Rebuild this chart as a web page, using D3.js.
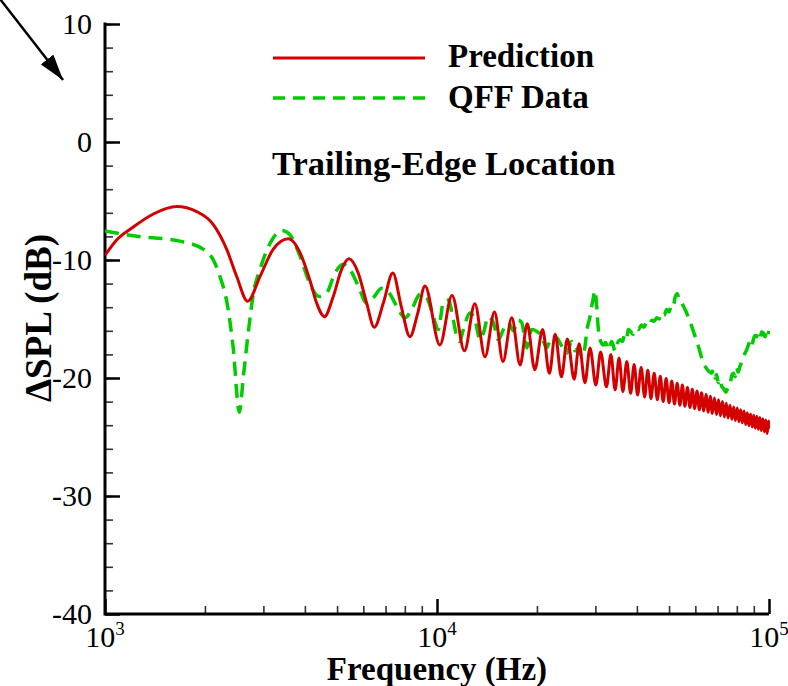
<!DOCTYPE html>
<html><head><meta charset="utf-8">
<script src="https://cdn.jsdelivr.net/npm/d3@7"></script>
<style>
html,body{margin:0;padding:0;background:#fff;}
svg{display:block;font-family:"Liberation Serif","Times New Roman",serif;}
svg text{font-family:"Liberation Serif","Times New Roman",serif;}
</style></head>
<body>
<svg id="chart" width="788" height="686"></svg>
<script>
// ---- data ----
const predFreqKHz = [1.0,1.084,1.217,1.398,1.644,1.889,2.12,2.326,2.493,2.69,2.93,3.21,3.57,3.87,4.14,4.34,4.58,4.87,5.16,5.43,5.79,6.14,6.47,6.9,7.36,7.8,8.29,8.75,9.2,
 10.2,11.1,12.1,13.0,13.95,14.9,15.8,16.8,17.8,18.7,19.7,20.8,21.8,22.7,23.7,24.7,25.9,26.8,27.9,28.9,30.1,31.1,32.4,33.4,
 34.4,35.35,36.3,37.3,38.3,39.25,40.2,41.2,42.2,43.15,44.1,45.1,46.1,47.05,48.0,49.0,50.0,50.95,51.9,52.9,53.9,54.85,55.8,56.8,57.8,58.75,59.7,60.7,
 61.7,62.65,63.6,64.6,65.6,66.55,67.5,68.5,69.5,70.45,71.4,72.4,73.4,74.35,75.3,76.3,77.3,78.25,79.2,80.2,81.2,82.15,83.1,84.1,85.1,86.05,87.0,88.0,
 89.0,89.95,90.9,91.9,92.9,93.85,94.8,95.8,96.8,97.75,98.7,99.7,100.0];
const predDb = [-9.6,-8.3,-7.2,-6.1,-5.47,-5.9,-7.0,-9.1,-11.4,-13.5,-11.4,-9.1,-8.2,-9.4,-11.7,-13.65,-14.8,-13.1,-10.8,-9.9,-11.1,-13.65,-15.7,-13.6,-11.1,-13.9,-16.5,-14.5,-12.2,
 -17.2,-13.0,-17.7,-13.7,-18.2,-14.4,-18.6,-14.9,-18.9,-15.4,-19.3,-15.9,-19.6,-16.3,-19.9,-16.7,-20.1,-17.1,-20.4,-17.45,-20.6,-17.8,-20.75,-18.0,
 -21.0,-18.3,-21.15,-18.6,-21.3,-18.85,-21.45,-19.1,-21.6,-19.35,-21.75,-19.6,-21.85,-19.85,-22.0,-20.05,-22.1,-20.25,-22.2,-20.45,-22.3,-20.6,-22.4,-20.8,-22.5,-20.95,-22.6,-21.1,
 -22.7,-21.25,-22.8,-21.4,-22.9,-21.55,-23.0,-21.7,-23.1,-21.85,-23.2,-22.0,-23.3,-22.15,-23.4,-22.3,-23.5,-22.45,-23.6,-22.55,-23.7,-22.7,-23.8,-22.8,-23.95,-22.95,-24.05,-23.05,
 -24.15,-23.15,-24.25,-23.25,-24.35,-23.35,-24.45,-23.45,-24.55,-23.55,-24.7,-23.65,-24.3];

const qffFreqKHz = [1.0,1.217,1.68,1.98,2.12,2.22,2.35,2.43,2.54,2.61,2.70,2.80,2.93,3.14,3.41,3.61,3.87,4.14,4.42,4.65,4.93,5.22,5.47,5.79,6.14,6.43,6.81,7.13,7.56,8.01,8.39,8.89,9.31,9.75,10.09,10.45,10.82,11.2,11.47,11.7,12.0,12.57,13.02,13.48,13.79,14.27,14.78,15.3,15.84,16.4,16.98,17.58,17.99,18.63,19.28,19.97,20.67,21.4,22.16,22.94,23.75,24.59,25.45,26.05,26.65,27.29,27.92,28.25,28.9,29.44,29.92,30.27,30.6,31.12,31.7,32.2,32.8,33.6,34.37,35.16,35.6,36.2,36.85,37.3,37.7,38.4,39.0,39.7,40.4,41.35,42.0,42.8,43.6,44.35,45.1,45.9,46.7,47.5,48.3,49.2,50.0,50.9,51.5,52.1,52.95,53.5,53.95,55.2,56.2,57.5,58.3,59.2,60.6,61.7,62.7,64.2,65.7,67.2,68.0,68.8,69.5,70.4,71.2,72.0,73.0,74.2,75.0,76.3,77.2,78.1,79.0,79.9,80.8,81.8,82.7,83.7,84.7,85.7,86.7,87.7,88.7,89.7,90.7,91.8,92.9,94.0,95.0,96.1,97.3,98.4,99.2,100.0];
const qffDb = [-7.55,-7.95,-8.4,-9.1,-10.0,-11.4,-14.2,-17.3,-22.9,-19.9,-16.2,-12.8,-10.8,-8.6,-7.5,-7.87,-9.7,-12.0,-13.1,-12.8,-11.1,-10.35,-10.8,-12.2,-13.65,-13.2,-12.4,-12.7,-13.9,-14.9,-14.2,-12.9,-13.2,-14.8,-15.9,-13.6,-13.4,-15.1,-16.5,-16.9,-15.9,-14.5,-15.1,-16.75,-16.2,-14.8,-15.3,-16.75,-15.9,-15.3,-16.0,-15.1,-15.3,-17.45,-15.9,-16.05,-16.5,-17.45,-16.5,-16.6,-17.3,-17.9,-16.9,-17.7,-17.45,-18.2,-17.3,-16.05,-14.8,-13.5,-12.6,-13.9,-15.8,-16.9,-17.2,-17.0,-17.6,-16.9,-17.7,-16.9,-16.75,-16.9,-16.2,-16.5,-15.9,-16.1,-16.3,-15.8,-15.9,-15.5,-15.7,-15.3,-15.5,-15.1,-15.2,-14.9,-15.0,-14.5,-14.7,-14.2,-14.4,-13.8,-13.9,-13.2,-12.86,-13.3,-13.4,-13.9,-14.35,-15.06,-15.5,-16.05,-16.9,-17.6,-18.3,-19.0,-19.4,-19.6,-19.3,-20.0,-19.7,-20.4,-20.1,-20.7,-20.9,-21.2,-20.9,-20.6,-19.8,-19.6,-19.9,-19.15,-19.5,-19.0,-18.7,-18.4,-17.9,-17.6,-17.2,-16.9,-17.3,-16.75,-16.4,-16.5,-16.2,-16.6,-16.1,-16.2,-16.5,-16.05,-16.4,-16.0];

const yMajorTicks = [-40,-30,-20,-10,0,10];
const xMajorTicks = [1000,10000,100000];
const xTickExps = ["3","4","5"];
const legendLabels = ["Prediction","QFF Data"];
const annotation = "Trailing-Edge Location";
const xTitle = "Frequency (Hz)";
const yTitle = "\u0394SPL (dB)";

// ---- layout ----
const L = 105, R = 769, T = 24, B = 614;
const RED = "#d40000", GREEN = "#00cc00";
const SERIF = "Liberation Serif, Times New Roman, serif";
const svg = d3.select("#chart");
const x = d3.scaleLog().domain([1000,100000]).range([L,R]);
const y = d3.scaleLinear().domain([-40,10]).range([B,T]);

svg.append("defs").append("clipPath").attr("id","clip")
  .append("rect").attr("x",L).attr("y",T-2).attr("width",R-L+1).attr("height",B-T+4);

// minor/major ticks y
const yMinor = d3.range(-40,10.01,2);
svg.append("g").attr("transform",`translate(${L},0)`)
  .call(d3.axisLeft(y).tickValues(yMinor).tickSize(-8).tickFormat(""))
  .call(g=>{g.select(".domain").remove(); g.selectAll("line").attr("stroke","#333").attr("stroke-width",1.6);});
svg.append("g").attr("transform",`translate(${L},0)`)
  .call(d3.axisLeft(y).tickValues(yMajorTicks).tickSize(-15).tickPadding(13).tickFormat(d=>String(d)))
  .call(g=>{g.select(".domain").remove(); g.attr("font-family",SERIF);
    g.selectAll("line").attr("stroke","#000").attr("stroke-width",2.5);
    g.selectAll("text").attr("font-size",30).attr("fill","#000").attr("font-family",SERIF).attr("dy","0.33em");});

// x ticks
const xMinor = [];
[1000,10000].forEach(d=>{for(let k=2;k<=9;k++) xMinor.push(d*k);});
svg.append("g").attr("transform",`translate(0,${B})`)
  .call(d3.axisBottom(x).tickValues(xMinor).tickSize(-8).tickFormat(""))
  .call(g=>{g.select(".domain").remove(); g.selectAll("line").attr("stroke","#333").attr("stroke-width",1.6);});
svg.append("g").attr("transform",`translate(0,${B})`)
  .call(d3.axisBottom(x).tickValues(xMajorTicks).tickSize(-15).tickFormat(""))
  .call(g=>{g.select(".domain").remove(); g.selectAll("line").attr("stroke","#000").attr("stroke-width",2.5);});

// axis lines
svg.append("path").attr("d",`M${L},${T-1.5}V${B}H${R}`).attr("fill","none").attr("stroke","#000").attr("stroke-width",3);

// x tick labels with superscripts
xMajorTicks.forEach((v,i)=>{
  const t = svg.append("text").attr("x",x(v)).attr("y",647).attr("text-anchor","middle")
    .attr("font-size",30).attr("fill","#000").attr("font-family",SERIF);
  t.append("tspan").text("10");
  t.append("tspan").attr("font-size",19).attr("dy",-12).text(xTickExps[i]);
});

// titles
svg.append("text").attr("x",437).attr("y",680).attr("text-anchor","middle").attr("font-family",SERIF)
  .attr("font-size",33).attr("font-weight","bold").text(xTitle);
svg.append("text").attr("transform",`translate(51,${318}) rotate(-90)`).attr("text-anchor","middle").attr("font-family",SERIF)
  .attr("font-size",37).attr("font-weight","bold").text(yTitle);

// curves
const line = d3.line().x(d=>x(d[0]*1000)).y(d=>y(d[1])).curve(d3.curveMonotoneX);
const plot = svg.append("g").attr("clip-path","url(#clip)");
plot.append("path").datum(qffFreqKHz.map((f,i)=>[f,qffDb[i]]))
  .attr("d",line).attr("fill","none").attr("stroke",GREEN).attr("stroke-width",3.5)
  .attr("stroke-dasharray","14,8");
plot.append("path").datum(predFreqKHz.map((f,i)=>[f,predDb[i]]))
  .attr("d",line).attr("fill","none").attr("stroke",RED).attr("stroke-width",3);

// legend
const lg = svg.append("g");
lg.append("line").attr("x1",273).attr("x2",425).attr("y1",58).attr("y2",58).attr("stroke",RED).attr("stroke-width",3);
lg.append("line").attr("x1",273).attr("x2",425).attr("y1",98).attr("y2",98).attr("stroke",GREEN).attr("stroke-width",3.5).attr("stroke-dasharray","12,8");
legendLabels.forEach((s,i)=>{
  lg.append("text").attr("x",448).attr("y",67+i*41).attr("font-size",33).attr("font-family",SERIF).attr("font-weight","bold").text(s);
});
svg.append("text").attr("x",272).attr("y",175).attr("font-size",34.5).attr("font-family",SERIF).attr("font-weight","bold").text(annotation);

// arrow
svg.append("defs").append("marker").attr("id","ah").attr("viewBox","0 0 26 16").attr("refX",26).attr("refY",8)
  .attr("markerWidth",26).attr("markerHeight",16).attr("markerUnits","userSpaceOnUse").attr("orient","auto")
  .append("path").attr("d","M0,0L26,8L0,16Z").attr("fill","#000");
svg.append("line").attr("x1",0).attr("y1",-1).attr("x2",63).attr("y2",80).attr("stroke","#000").attr("stroke-width",2.5)
  .attr("marker-end","url(#ah)");
</script>
</body></html>
